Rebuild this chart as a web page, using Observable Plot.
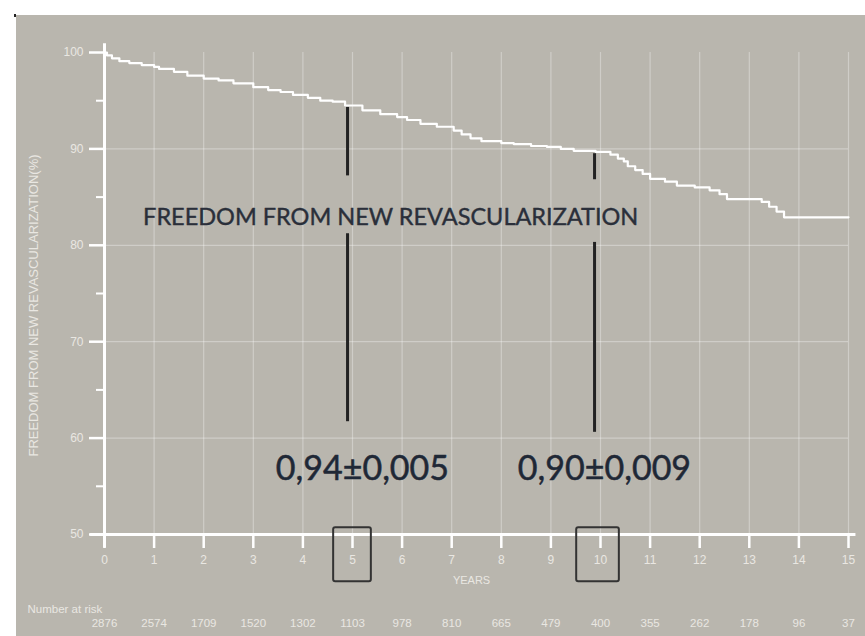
<!DOCTYPE html>
<html>
<head>
<meta charset="utf-8">
<script src="https://cdn.jsdelivr.net/npm/d3@7"></script>
<script src="https://cdn.jsdelivr.net/npm/@observablehq/plot@0.6"></script>
<style>
  html, body { margin: 0; padding: 0; background: #ffffff; }
  #wrap { position: relative; width: 865px; height: 636px; background: #ffffff; overflow: hidden; }
  #panel { position: absolute; left: 16px; top: 15px; width: 849px; height: 621px; background: #b9b6ae; }
  #dot { position: absolute; left: 14px; top: 14px; width: 2px; height: 3px; background: #222; }
  #chart { position: absolute; left: 0; top: 0; }
</style>
</head>
<body>
<div id="wrap"><div id="panel"></div><div id="dot"></div><div id="chart"></div></div>
<script>
// Kaplan-Meier curve (step-after)
const years = [0, 0.05, 0.15, 0.3, 0.5, 0.75, 1.0, 1.1, 1.4, 1.67, 2.0, 2.3, 2.6, 3.0, 3.3, 3.55, 3.8, 4.1, 4.35, 4.6, 4.85, 5.2, 5.56, 5.9, 6.1, 6.37, 6.7, 7.04, 7.2, 7.38, 7.6, 8.0, 8.25, 8.6, 8.92, 9.2, 9.46, 9.9, 10.2, 10.35, 10.47, 10.55, 10.7, 10.85, 11.0, 11.3, 11.54, 11.9, 12.2, 12.4, 12.55, 13.25, 13.4, 13.55, 13.7, 15];
const freedom = [100, 99.7, 99.4, 99.1, 98.9, 98.7, 98.5, 98.3, 98.0, 97.6, 97.3, 97.1, 96.8, 96.4, 96.1, 95.9, 95.6, 95.3, 95.0, 94.9, 94.5, 94.0, 93.6, 93.3, 93.0, 92.6, 92.3, 91.9, 91.5, 91.1, 90.8, 90.6, 90.5, 90.3, 90.2, 90.0, 89.8, 89.7, 89.4, 89.0, 88.7, 88.2, 87.8, 87.4, 86.9, 86.6, 86.2, 86.0, 85.7, 85.3, 84.8, 84.5, 84.0, 83.5, 82.9, 82.9];

// axis ticks
const xTicks = d3.range(0, 16);
const yTicks = [50, 60, 70, 80, 90, 100];
const yMinorTicks = [55, 65, 75, 85, 95];
const gridYTicks = [60, 70, 80, 90];

// number at risk
const riskYears = d3.range(0, 16);
const atRisk = ["2876", "2574", "1709", "1520", "1302", "1103", "978", "810", "665", "479", "400", "355", "262", "178", "96", "37"];

// annotations
const markX = [4.9, 4.9, 9.88, 9.88];
const markTop = [94.3, 81.2, 89.5, 80.3];
const markBottom = [87.2, 61.7, 86.8, 60.6];
const estimates = ["0,94±0,005", "0,90±0,009"];
const estimateX = [5.2, 10.08];
const estimateY = [56.8, 56.8];
const boxX1 = [4.62, 9.52];
const boxX2 = [5.38, 10.38];
const boxTop = [50.7, 50.7];
const boxBottom = [45.1, 45.1];

const title = "FREEDOM FROM NEW REVASCULARIZATION";
const yLabel = "FREEDOM FROM NEW REVASCULARIZATION(%)";
const xLabel = "YEARS";

const curve = years.map((t, i) => ({t, s: freedom[i]}));
const light = "#e9e7e2";
const ink = "#2a2f3a";

const chart = Plot.plot({
  width: 865,
  height: 636,
  marginLeft: 104,
  marginRight: 17,
  marginTop: 52,
  marginBottom: 102,
  x: {domain: [0, 15]},
  y: {domain: [50, 100]},
  style: {background: "transparent", fontFamily: "'Liberation Sans', Arial, sans-serif", overflow: "visible"},
  marks: [
    Plot.gridX(xTicks.slice(1), {stroke: "#ffffff", strokeOpacity: 0.32, strokeWidth: 1.2}),
    Plot.gridY(gridYTicks, {stroke: "#ffffff", strokeOpacity: 0.32, strokeWidth: 1.2}),
    Plot.axisY(yTicks, {tickSize: 15, tickPadding: 6, stroke: "#ffffff", strokeWidth: 2.5, fill: light, fontSize: 12, label: null}),
    Plot.axisY(yMinorTicks, {tickSize: 8, stroke: "#ffffff", strokeWidth: 2, text: null, label: null}),
    Plot.axisX(xTicks, {tickSize: 14, tickPadding: 7, stroke: "#ffffff", strokeWidth: 2.5, fill: light, fontSize: 12, label: null}),
    Plot.ruleX([0], {y1: 100.9, y2: 48.6, stroke: "#ffffff", strokeWidth: 3}),
    Plot.ruleY([50], {x1: -0.28, x2: 15.15, stroke: "#ffffff", strokeWidth: 3}),
    Plot.line(curve, {x: "t", y: "s", curve: "step-after", stroke: "#ffffff", strokeWidth: 2.2}),
    Plot.ruleX(markX, {x: d => d, y1: (d, i) => markTop[i], y2: (d, i) => markBottom[i], stroke: "#222222", strokeWidth: 3}),
    Plot.rect(boxX1, {x1: d => d, x2: (d, i) => boxX2[i], y1: (d, i) => boxTop[i], y2: (d, i) => boxBottom[i], fill: "none", stroke: "#333333", strokeWidth: 2, rx: 2}),
    Plot.text([title], {x: 5.77, y: 82.9, text: d => d, fontFamily: "Lato, 'Open Sans', sans-serif", fontSize: 23.5, fill: ink, stroke: ink, strokeWidth: 0.4, textAnchor: "middle"}),
    Plot.text(estimates, {x: (d, i) => estimateX[i], y: (d, i) => estimateY[i], text: d => d, fontFamily: "Lato, 'Open Sans', sans-serif", fontSize: 34, fill: "#1f2836", stroke: "#1f2836", strokeWidth: 0.5, textAnchor: "middle"}),
    Plot.text(riskYears, {x: d => d, text: (d, i) => atRisk[i], frameAnchor: "bottom", dy: 92, fontSize: 11.5, fill: light}),
    Plot.text([xLabel], {x: 7.4, frameAnchor: "bottom", dy: 49, text: d => d, fontSize: 11, fill: light}),
    Plot.text(["Number at risk"], {frameAnchor: "bottom-left", dx: -77, dy: 78, text: d => d, fontSize: 11.5, fill: light, textAnchor: "start"}),
    Plot.text([yLabel], {frameAnchor: "left", dx: -71, dy: 12, rotate: -90, text: d => d, fontSize: 13, fill: light, textAnchor: "middle"})
  ]
});
document.getElementById("chart").appendChild(chart);
</script>
</body>
</html>
